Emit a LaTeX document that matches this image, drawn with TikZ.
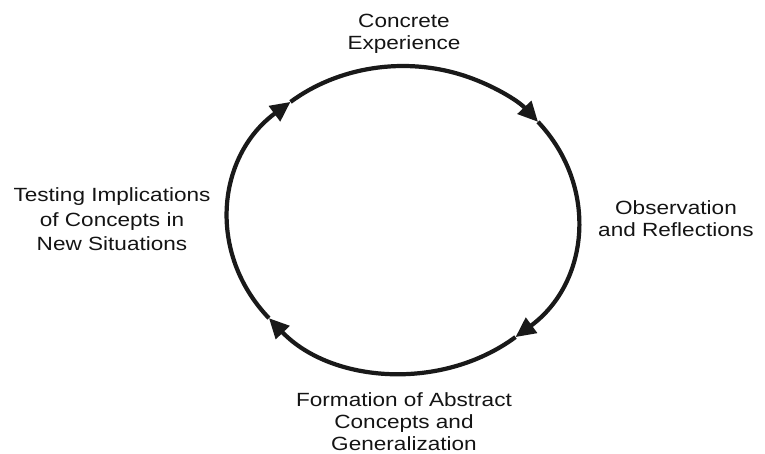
\documentclass[tikz,border=0pt]{standalone}
\usepackage{fontspec}
\setmainfont{Liberation Sans}[FakeStretch=1.18]
\usepackage{xcolor}
\usetikzlibrary{arrows.meta,positioning}
\tikzset{
  stagelabel/.style={font=\fontsize{13.6pt}{15.6pt}\selectfont, text=black!92,
                     align=center, inner sep=0pt, anchor=north},
  cyclearc/.style={draw=black!90, line width=3pt,
                   -{Triangle[length=0.5cm, width=0.46cm]}}
}

\begin{document}
\begin{tikzpicture}[x=0.025cm, y=0.025cm]
    \useasboundingbox (0,0) rectangle (765,454);
    \def\radx{175} \def\rady{153.5}
    \coordinate (O) at (403,234.5);

    % Points on the cycle where the arrows end
    \coordinate (tl) at ([shift={(130:175 and 153.5)}]O);
    \coordinate (tr) at ([shift={(39.5:175 and 153.5)}]O);
    \coordinate (br) at ([shift={(-50:175 and 153.5)}]O);
    \coordinate (bl) at ([shift={(-140:175 and 153.5)}]O);

    % Cycle, clockwise
    \draw[cyclearc] (tl) arc[start angle=130, end angle=39.5, x radius=\radx, y radius=\rady];
    \draw[cyclearc] (tr) arc[start angle=39.5, end angle=-50, x radius=\radx, y radius=\rady];
    \draw[cyclearc] (br) arc[start angle=-50, end angle=-140, x radius=\radx, y radius=\rady];
    \draw[cyclearc] (bl) arc[start angle=-140, end angle=-230, x radius=\radx, y radius=\rady];

    % Stage labels
    \node[stagelabel] (CE) at (404,440) {Concrete\\Experience};
    \node[stagelabel] (OR) at (676,254) {Observation\\and Reflections};
    \node[stagelabel] (FA) at (404,61.5) {Formation of Abstract\\Concepts and\\Generalization};
    \node[stagelabel, font=\fontsize{13.6pt}{17.4pt}\selectfont] (TI) at (112,266.5)
      {Testing Implications\\of Concepts in\\New Situations};
\end{tikzpicture}
\end{document}
